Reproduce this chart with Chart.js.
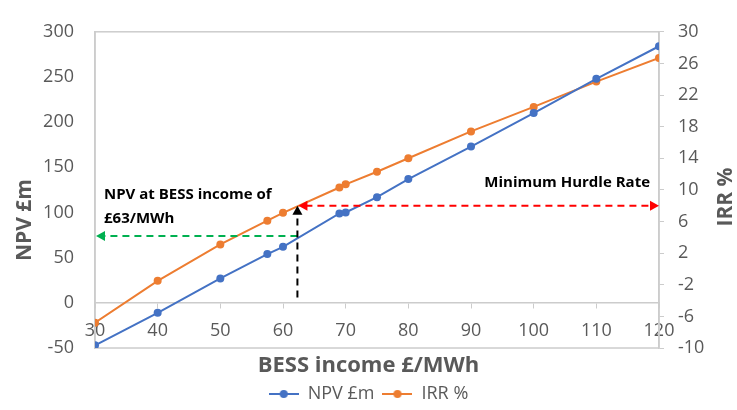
<!DOCTYPE html>
<html>
<head>
<meta charset="utf-8">
<script src="https://cdn.jsdelivr.net/npm/chart.js@4.4.1/dist/chart.umd.min.js"></script>
<style>
html, body { margin: 0; padding: 0; background: #fff; }
#wrap { width: 737px; height: 410px; position: relative; }
</style>
</head>
<body>
<div id="wrap"><canvas id="myChart"></canvas></div>
<script>
// BESS income £/MWh (x axis)
const incomeValues = [30, 40, 50, 57.5, 60, 69, 70, 75, 80, 90, 100, 110, 120];

// NPV £m (left axis)
const npvValues = [-47, -11, 27, 54, 62, 99, 100, 117, 137, 173, 210, 248, 284];

// IRR % (right axis)
const irrValues = [-6.8, -1.5, 3.1, 6.1, 7.1, 10.3, 10.7, 12.3, 14.0, 17.4, 20.5, 23.7, 26.7];

// tick labels
const incomeTicks = [30, 40, 50, 60, 70, 80, 90, 100, 110, 120];
const npvTicks = [-50, 0, 50, 100, 150, 200, 250, 300];
const irrTicks = [-10, -6, -2, 2, 6, 10, 14, 18, 22, 26, 30];

// annotation values
const hurdleRate = 8;       // IRR %
const hurdleIncome = 62.3;  // £/MWh
const hurdleNpv = 74;       // £m
const arrowBaseNpv = 6;     // £m, foot of the black arrow

const GREY = "#595959";
const FONT = "'Open Sans', sans-serif";

function toPoints(xs, ys) {
    return xs.map((x, i) => ({ x: x, y: ys[i] }));
}

// little line + dot icon for the legend
function legendIcon(color) {
    const c = document.createElement("canvas");
    c.width = 30;
    c.height = 12;
    const g = c.getContext("2d");
    g.strokeStyle = color;
    g.lineWidth = 2;
    g.beginPath();
    g.moveTo(0, 6);
    g.lineTo(30, 6);
    g.stroke();
    g.fillStyle = color;
    g.beginPath();
    g.arc(15, 6, 4, 0, Math.PI * 2);
    g.fill();
    return c;
}

function head(ctx, x, y, dir, color) {
    const L = 9, W = 5;
    ctx.fillStyle = color;
    ctx.beginPath();
    if (dir === "left") {
        ctx.moveTo(x, y); ctx.lineTo(x + L, y - W); ctx.lineTo(x + L, y + W);
    } else if (dir === "right") {
        ctx.moveTo(x, y); ctx.lineTo(x - L, y - W); ctx.lineTo(x - L, y + W);
    } else {
        ctx.moveTo(x, y); ctx.lineTo(x - W, y + L); ctx.lineTo(x + W, y + L);
    }
    ctx.closePath();
    ctx.fill();
}

function dashed(ctx, x1, y1, x2, y2, color) {
    ctx.save();
    ctx.strokeStyle = color;
    ctx.lineWidth = 2;
    ctx.setLineDash([7, 5]);
    ctx.beginPath();
    ctx.moveTo(x1, y1);
    ctx.lineTo(x2, y2);
    ctx.stroke();
    ctx.restore();
}

const extrasPlugin = {
    id: "extras",
    beforeDatasetsDraw(chart) {
        const { ctx, chartArea: a } = chart;
        ctx.save();
        ctx.strokeStyle = "#cccccc";
        ctx.lineWidth = 1.5;
        ctx.strokeRect(a.left, a.top, a.right - a.left, a.bottom - a.top);
        ctx.restore();
    },
    afterDatasetsDraw(chart) {
        const { ctx, chartArea: a } = chart;
        const sx = chart.scales.x, sy = chart.scales.y, sy1 = chart.scales.y1;

        const xh = sx.getPixelForValue(hurdleIncome);
        const yHurdle = sy1.getPixelForValue(hurdleRate);
        const yNpv = sy.getPixelForValue(hurdleNpv);
        const yBase = sy.getPixelForValue(arrowBaseNpv);
        const xEnd = sx.getPixelForValue(incomeTicks[incomeTicks.length - 1]);
        const xStart = sx.getPixelForValue(incomeTicks[0]);

        ctx.save();
        // red: minimum hurdle rate
        dashed(ctx, xh + 8, yHurdle, xEnd - 8, yHurdle, "#ff0000");
        head(ctx, xh + 1, yHurdle, "left", "#ff0000");
        head(ctx, xEnd, yHurdle, "right", "#ff0000");
        // green: NPV at that income
        dashed(ctx, xh, yNpv, xStart + 8, yNpv, "#00b050");
        head(ctx, xStart + 1, yNpv, "left", "#00b050");
        // black: up from the income axis
        dashed(ctx, xh, yBase, xh, yHurdle + 8, "#000000");
        head(ctx, xh, yHurdle, "up", "#000000");

        ctx.fillStyle = "#000";
        ctx.font = "bold 15px " + FONT;
        ctx.textBaseline = "middle";
        ctx.textAlign = "left";
        ctx.fillText("NPV at BESS income of", a.left + 9, yNpv - 41);
        ctx.fillText("£63/MWh", a.left + 9, yNpv - 17);
        ctx.textAlign = "right";
        ctx.fillText("Minimum Hurdle Rate", a.right - 9, yHurdle - 23);

        // axis titles, both reading bottom to top
        ctx.fillStyle = GREY;
        ctx.font = "bold 21px " + FONT;
        ctx.textAlign = "center";
        ctx.save();
        ctx.translate(25, 220);
        ctx.rotate(-Math.PI / 2);
        ctx.fillText("NPV £m", 0, 0);
        ctx.restore();
        ctx.save();
        ctx.translate(726, 197);
        ctx.rotate(-Math.PI / 2);
        ctx.fillText("IRR %", 0, 0);
        ctx.restore();
        ctx.restore();
    }
};

const tickFont = { family: FONT, size: 18 };

new Chart(document.getElementById("myChart"), {
    type: "scatter",
    data: {
        datasets: [
            {
                label: "NPV £m",
                data: toPoints(incomeValues, npvValues),
                yAxisID: "y",
                showLine: true,
                borderColor: "#4472C4",
                backgroundColor: "#4472C4",
                borderWidth: 2,
                pointRadius: 4,
                pointBorderWidth: 0,
                tension: 0
            },
            {
                label: "IRR %",
                data: toPoints(incomeValues, irrValues),
                yAxisID: "y1",
                showLine: true,
                borderColor: "#ED7D31",
                backgroundColor: "#ED7D31",
                borderWidth: 2,
                pointRadius: 4,
                pointBorderWidth: 0,
                tension: 0
            }
        ]
    },
    options: {
        responsive: true,
        maintainAspectRatio: false,
        animation: false,
        layout: { padding: { top: 25, left: 0, right: 0, bottom: -3 } },
        scales: {
            x: {
                type: "linear",
                position: { y: 0 },
                min: incomeTicks[0],
                max: incomeTicks[incomeTicks.length - 1],
                afterBuildTicks: (s) => { s.ticks = incomeTicks.map(v => ({ value: v })); },
                ticks: { color: GREY, font: tickFont, padding: 12, maxRotation: 0 },
                grid: { drawOnChartArea: false, color: "#cccccc", tickLength: 5 },
                border: { color: "#cccccc", width: 1.5 }
            },
            y: {
                position: "left",
                min: npvTicks[0],
                max: npvTicks[npvTicks.length - 1],
                afterBuildTicks: (s) => { s.ticks = npvTicks.map(v => ({ value: v })); },
                afterFit: (s) => { s.width = 95; },
                ticks: { color: GREY, font: tickFont, padding: 21 },
                grid: { drawOnChartArea: false, drawTicks: false, color: "#cccccc" },
                border: { color: "#cccccc", width: 1.5 }
            },
            y1: {
                position: "right",
                min: irrTicks[0],
                max: irrTicks[irrTicks.length - 1],
                afterBuildTicks: (s) => { s.ticks = irrTicks.map(v => ({ value: v })); },
                afterFit: (s) => { s.width = 78; },
                ticks: { color: GREY, font: tickFont, padding: 14 },
                grid: { drawOnChartArea: false, color: "#cccccc", tickLength: 5 },
                border: { color: "#cccccc", width: 1.5 }
            }
        },
        plugins: {
            title: {
                display: true,
                text: "BESS income £/MWh",
                position: "bottom",
                weight: 500,
                color: GREY,
                font: { family: FONT, size: 22, weight: "bold", lineHeight: 1.0 },
                padding: { top: 7, bottom: 0 }
            },
            legend: {
                position: "bottom",
                labels: {
                    color: GREY,
                    font: { family: FONT, size: 18 },
                    usePointStyle: true,
                    pointStyleWidth: 30,
                    padding: 8,
                    generateLabels(chart) {
                        return chart.data.datasets.map((ds, i) => ({
                            text: ds.label,
                            fillStyle: ds.borderColor,
                            strokeStyle: ds.borderColor,
                            fontColor: GREY,
                            lineWidth: 0,
                            pointStyle: legendIcon(ds.borderColor),
                            hidden: false,
                            datasetIndex: i
                        }));
                    }
                }
            },
            tooltip: { enabled: false }
        }
    },
    plugins: [extrasPlugin]
});
</script>
</body>
</html>
